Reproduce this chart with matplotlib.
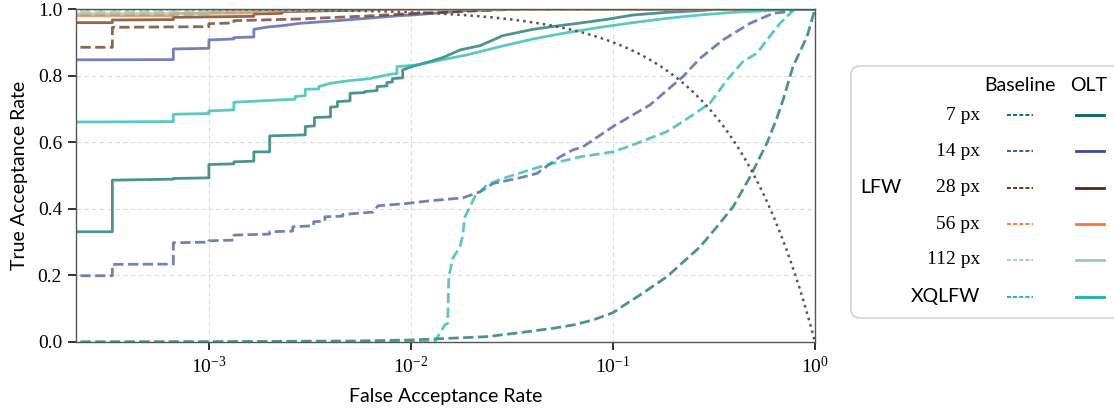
import numpy as np
import matplotlib
matplotlib.use("Agg")
import matplotlib.pyplot as plt
from matplotlib.patches import FancyBboxPatch

# ROC data: false acceptance rate (far) vs. true acceptance rate (tar)
olt_7_far = [1e-4, 3.33e-4, 3.33e-4, 6.67e-4, 6.67e-4, 1.0e-3, 1.0e-3, 1.33e-3, 1.33e-3, 1.67e-3, 1.67e-3,
             2.0e-3, 2.0e-3, 3.0e-3, 3.0e-3, 3.33e-3, 3.33e-3, 4.0e-3, 4.0e-3, 4.33e-3, 4.33e-3, 5.0e-3, 5.0e-3,
             5.9e-3, 5.9e-3, 6.8e-3, 6.8e-3, 7.6e-3, 7.6e-3, 8.1e-3, 8.1e-3, 9.1e-3, 9.1e-3, 0.0102, 0.0124,
             0.0145, 0.0175, 0.022, 0.0285, 0.0402, 0.0528, 0.071, 0.0934, 0.1256, 0.185, 0.27, 0.34, 1.0]
olt_7_tar = [0.331, 0.331, 0.486, 0.489, 0.491, 0.493, 0.533, 0.535, 0.541, 0.543, 0.571,
             0.571, 0.619, 0.622, 0.647, 0.649, 0.674, 0.676, 0.705, 0.707, 0.722, 0.724, 0.747,
             0.749, 0.752, 0.755, 0.767, 0.769, 0.779, 0.781, 0.791, 0.793, 0.817, 0.828, 0.842,
             0.855, 0.877, 0.890, 0.920, 0.939, 0.949, 0.959, 0.969, 0.982, 0.990, 0.995, 1.0, 1.0]

base_7_far = [1e-4, 1e-3, 5e-3, 0.01, 0.0237, 0.0346, 0.0504, 0.0634, 0.0796, 0.1, 0.1173, 0.136,
              0.185, 0.27, 0.327, 0.393, 0.477, 0.578, 0.648, 0.695, 0.778, 0.913, 1.0]
base_7_tar = [0.0, 0.001, 0.003, 0.006, 0.016, 0.028, 0.041, 0.051, 0.066, 0.088, 0.116, 0.141,
              0.196, 0.286, 0.346, 0.406, 0.496, 0.597, 0.673, 0.727, 0.827, 0.917, 1.0]

olt_14_far = [1e-4, 6.67e-4, 6.67e-4, 1.0e-3, 1.0e-3, 1.33e-3, 1.33e-3, 1.67e-3, 1.67e-3, 1.96e-3,
              2.32e-3, 2.82e-3, 4.1e-3, 6.05e-3, 8.8e-3, 0.0102, 0.0189, 0.035, 1.0]
olt_14_tar = [0.847, 0.848, 0.880, 0.882, 0.907, 0.910, 0.914, 0.916, 0.939, 0.946,
              0.950, 0.957, 0.964, 0.972, 0.980, 0.982, 0.995, 1.0, 1.0]

base_14_far = [1e-4, 3.33e-4, 3.33e-4, 6.67e-4, 6.67e-4, 1.0e-3, 1.0e-3, 1.33e-3, 1.33e-3, 2.0e-3, 2.0e-3,
               2.6e-3, 2.6e-3, 3.3e-3, 3.3e-3, 3.75e-3, 3.75e-3, 4.6e-3, 4.6e-3, 6.5e-3, 6.87e-3, 9.55e-3,
               0.0124, 0.0181, 0.022, 0.0255, 0.0346, 0.042, 0.0471, 0.0547, 0.0634, 0.071, 0.1, 0.1525,
               0.222, 0.27, 0.35, 0.477, 0.62, 0.735, 0.796, 1.0]
base_14_tar = [0.199, 0.199, 0.233, 0.234, 0.298, 0.300, 0.304, 0.306, 0.321, 0.324, 0.331,
               0.333, 0.346, 0.349, 0.361, 0.363, 0.376, 0.378, 0.383, 0.390, 0.409, 0.416,
               0.424, 0.433, 0.451, 0.476, 0.493, 0.506, 0.528, 0.556, 0.577, 0.586, 0.647, 0.712,
               0.797, 0.852, 0.907, 0.957, 0.987, 0.992, 1.0, 1.0]

olt_28_far = [1e-4, 3.33e-4, 3.33e-4, 6.67e-4, 6.67e-4, 1.67e-3, 1.67e-3, 2.3e-3, 2.3e-3, 5e-3, 8.8e-3, 1.0]
olt_28_tar = [0.959, 0.959, 0.967, 0.968, 0.975, 0.978, 0.985, 0.987, 0.992, 0.996, 1.0, 1.0]

base_28_far = [1e-4, 3.33e-4, 3.33e-4, 1.0e-3, 1.0e-3, 1.33e-3, 1.33e-3, 2.8e-3, 6.05e-3, 0.0105, 0.02, 0.035, 1.0]
base_28_tar = [0.885, 0.885, 0.945, 0.947, 0.956, 0.958, 0.965, 0.970, 0.979, 0.987, 0.994, 1.0, 1.0]

olt_56_far = [1e-4, 6.67e-4, 6.67e-4, 1.67e-3, 1.67e-3, 4e-3, 1.0]
olt_56_tar = [0.980, 0.980, 0.987, 0.988, 0.992, 1.0, 1.0]

base_56_far = [1e-4, 1e-3, 1e-3, 3e-3, 8e-3, 1.0]
base_56_tar = [0.983, 0.984, 0.990, 0.994, 1.0, 1.0]

olt_112_far = [1e-4, 1e-3, 1e-3, 3e-3, 1.0]
olt_112_tar = [0.986, 0.987, 0.993, 1.0, 1.0]

base_112_far = [1e-4, 2e-3, 2e-3, 6e-3, 1.0]
base_112_tar = [0.992, 0.993, 0.996, 1.0, 1.0]

olt_xq_far = [1e-4, 3.33e-4, 6.67e-4, 6.67e-4, 1.0e-3, 1.0e-3, 1.33e-3, 1.33e-3, 2.25e-3, 2.67e-3, 2.67e-3,
              3.0e-3, 3.0e-3, 3.5e-3, 3.5e-3, 4.0e-3, 5.0e-3, 6.27e-3, 7.87e-3, 8.53e-3, 8.53e-3, 0.0107,
              0.0124, 0.0189, 0.0276, 0.0402, 0.0592, 0.0862, 0.1256, 0.185, 0.27, 0.393, 0.578, 0.752, 1.0]
olt_xq_tar = [0.660, 0.661, 0.662, 0.684, 0.686, 0.694, 0.697, 0.720, 0.727, 0.729, 0.737,
              0.740, 0.759, 0.760, 0.767, 0.777, 0.785, 0.791, 0.804, 0.806, 0.827, 0.832,
              0.840, 0.862, 0.887, 0.910, 0.929, 0.945, 0.959, 0.972, 0.982, 0.990, 0.995, 1.0, 1.0]

base_xq_far = [1e-4, 0.0131, 0.0147, 0.0152, 0.0154, 0.0161, 0.0175, 0.018, 0.0185, 0.0196, 0.0207,
               0.0237, 0.0266, 0.032, 0.0435, 0.047, 0.0687, 0.1, 0.1256, 0.185, 0.222, 0.302, 0.367,
               0.44, 0.516, 0.578, 0.671, 0.769, 0.796, 1.0]
base_xq_tar = [0.0, 0.0, 0.051, 0.056, 0.196, 0.251, 0.286, 0.316, 0.376, 0.406, 0.436,
               0.471, 0.484, 0.501, 0.526, 0.532, 0.556, 0.571, 0.592, 0.632, 0.662, 0.717, 0.787,
               0.842, 0.867, 0.907, 0.957, 0.992, 1.0, 1.0]

row_labels = ["7 px", "14 px", "28 px", "56 px", "112 px", "XQLFW"]
colors = ["#01665e", "#3b4b9a", "#5b2608", "#f0783c", "#9fc8b0", "#17b3a3"]
baseline = [(base_7_far, base_7_tar), (base_14_far, base_14_tar), (base_28_far, base_28_tar),
            (base_56_far, base_56_tar), (base_112_far, base_112_tar), (base_xq_far, base_xq_tar)]
olt = [(olt_7_far, olt_7_tar), (olt_14_far, olt_14_tar), (olt_28_far, olt_28_tar),
       (olt_56_far, olt_56_tar), (olt_112_far, olt_112_tar), (olt_xq_far, olt_xq_tar)]

serif = "Liberation Serif"
sans = "Lato"
plt.rcParams["font.family"] = serif
plt.rcParams["mathtext.fontset"] = "custom"
plt.rcParams["mathtext.rm"] = serif
plt.rcParams["mathtext.it"] = serif
plt.rcParams["axes.unicode_minus"] = False

fig = plt.figure(figsize=(11.14, 4.12), dpi=100)
ax = fig.add_axes([76 / 1114, 1 - 342 / 412, (815 - 76) / 1114, 333 / 412])

for c, (bf, bt), (of, ot) in zip(colors, baseline, olt):
    ax.plot(bf, bt, "--", color=c, lw=2.0, alpha=0.7)
    ax.plot(of, ot, "-", color=c, lw=2.0, alpha=0.7)

# equal error rate line
eer_x = np.logspace(-4, 0, 400)
ax.plot(eer_x, 1 - eer_x, ":", color="#555555", lw=1.8)

ax.set_xscale("log")
ax.set_xlim(2.2e-4, 1.0)
ax.set_ylim(0, 1.0)
ax.set_xticks([1e-3, 1e-2, 1e-1, 1e0])
ax.xaxis.set_minor_locator(matplotlib.ticker.NullLocator())
ax.set_yticks([0.0, 0.2, 0.4, 0.6, 0.8, 1.0])
ax.set_yticklabels(["0.0", "0.2", "0.4", "0.6", "0.8", "1.0"])
ax.grid(True, which="major", ls=(0, (4, 3)), color="#dddddd", lw=0.8)
ax.set_axisbelow(True)
for s in ax.spines.values():
    s.set_color("#555555")
    s.set_linewidth(1.0)
ax.tick_params(direction="out", length=6, width=1.3, color="#222222", labelsize=14, pad=4)
ax.set_xlabel("False Acceptance Rate", fontfamily=sans, fontsize=14, labelpad=8)
ax.set_ylabel("True Acceptance Rate", fontfamily=sans, fontsize=14, labelpad=7)

# table-style legend in pixel coordinates
lax = fig.add_axes([0, 0, 1, 1])
lax.set_xlim(0, 1114)
lax.set_ylim(412, 0)
lax.axis("off")
lax.add_patch(FancyBboxPatch((851, 66), 300, 252, boxstyle="round,pad=0,rounding_size=9",
                             fc="white", ec="#cccccc", lw=1.0))
lax.text(1020, 85, "Baseline", ha="center", va="center", fontfamily=sans, fontsize=14)
lax.text(1089, 85, "OLT", ha="center", va="center", fontfamily=sans, fontsize=14)
lax.text(860, 187.5, "LFW", ha="left", va="center", fontfamily=sans, fontsize=14)
row_y = [115, 151, 187.5, 224, 260, 296.5]
for lbl, c, y in zip(row_labels, colors, row_y):
    fam = sans if lbl == "XQLFW" else serif
    lax.text(980, y, lbl, ha="right", va="center", fontfamily=fam, fontsize=14)
    lax.plot([1007, 1033], [y, y], color=c, lw=1.3, ls=(0, (2.2, 1.2)))
    lax.plot([1076, 1104], [y, y], color=c, lw=2.0)

fig.savefig("out.png", dpi=100)
